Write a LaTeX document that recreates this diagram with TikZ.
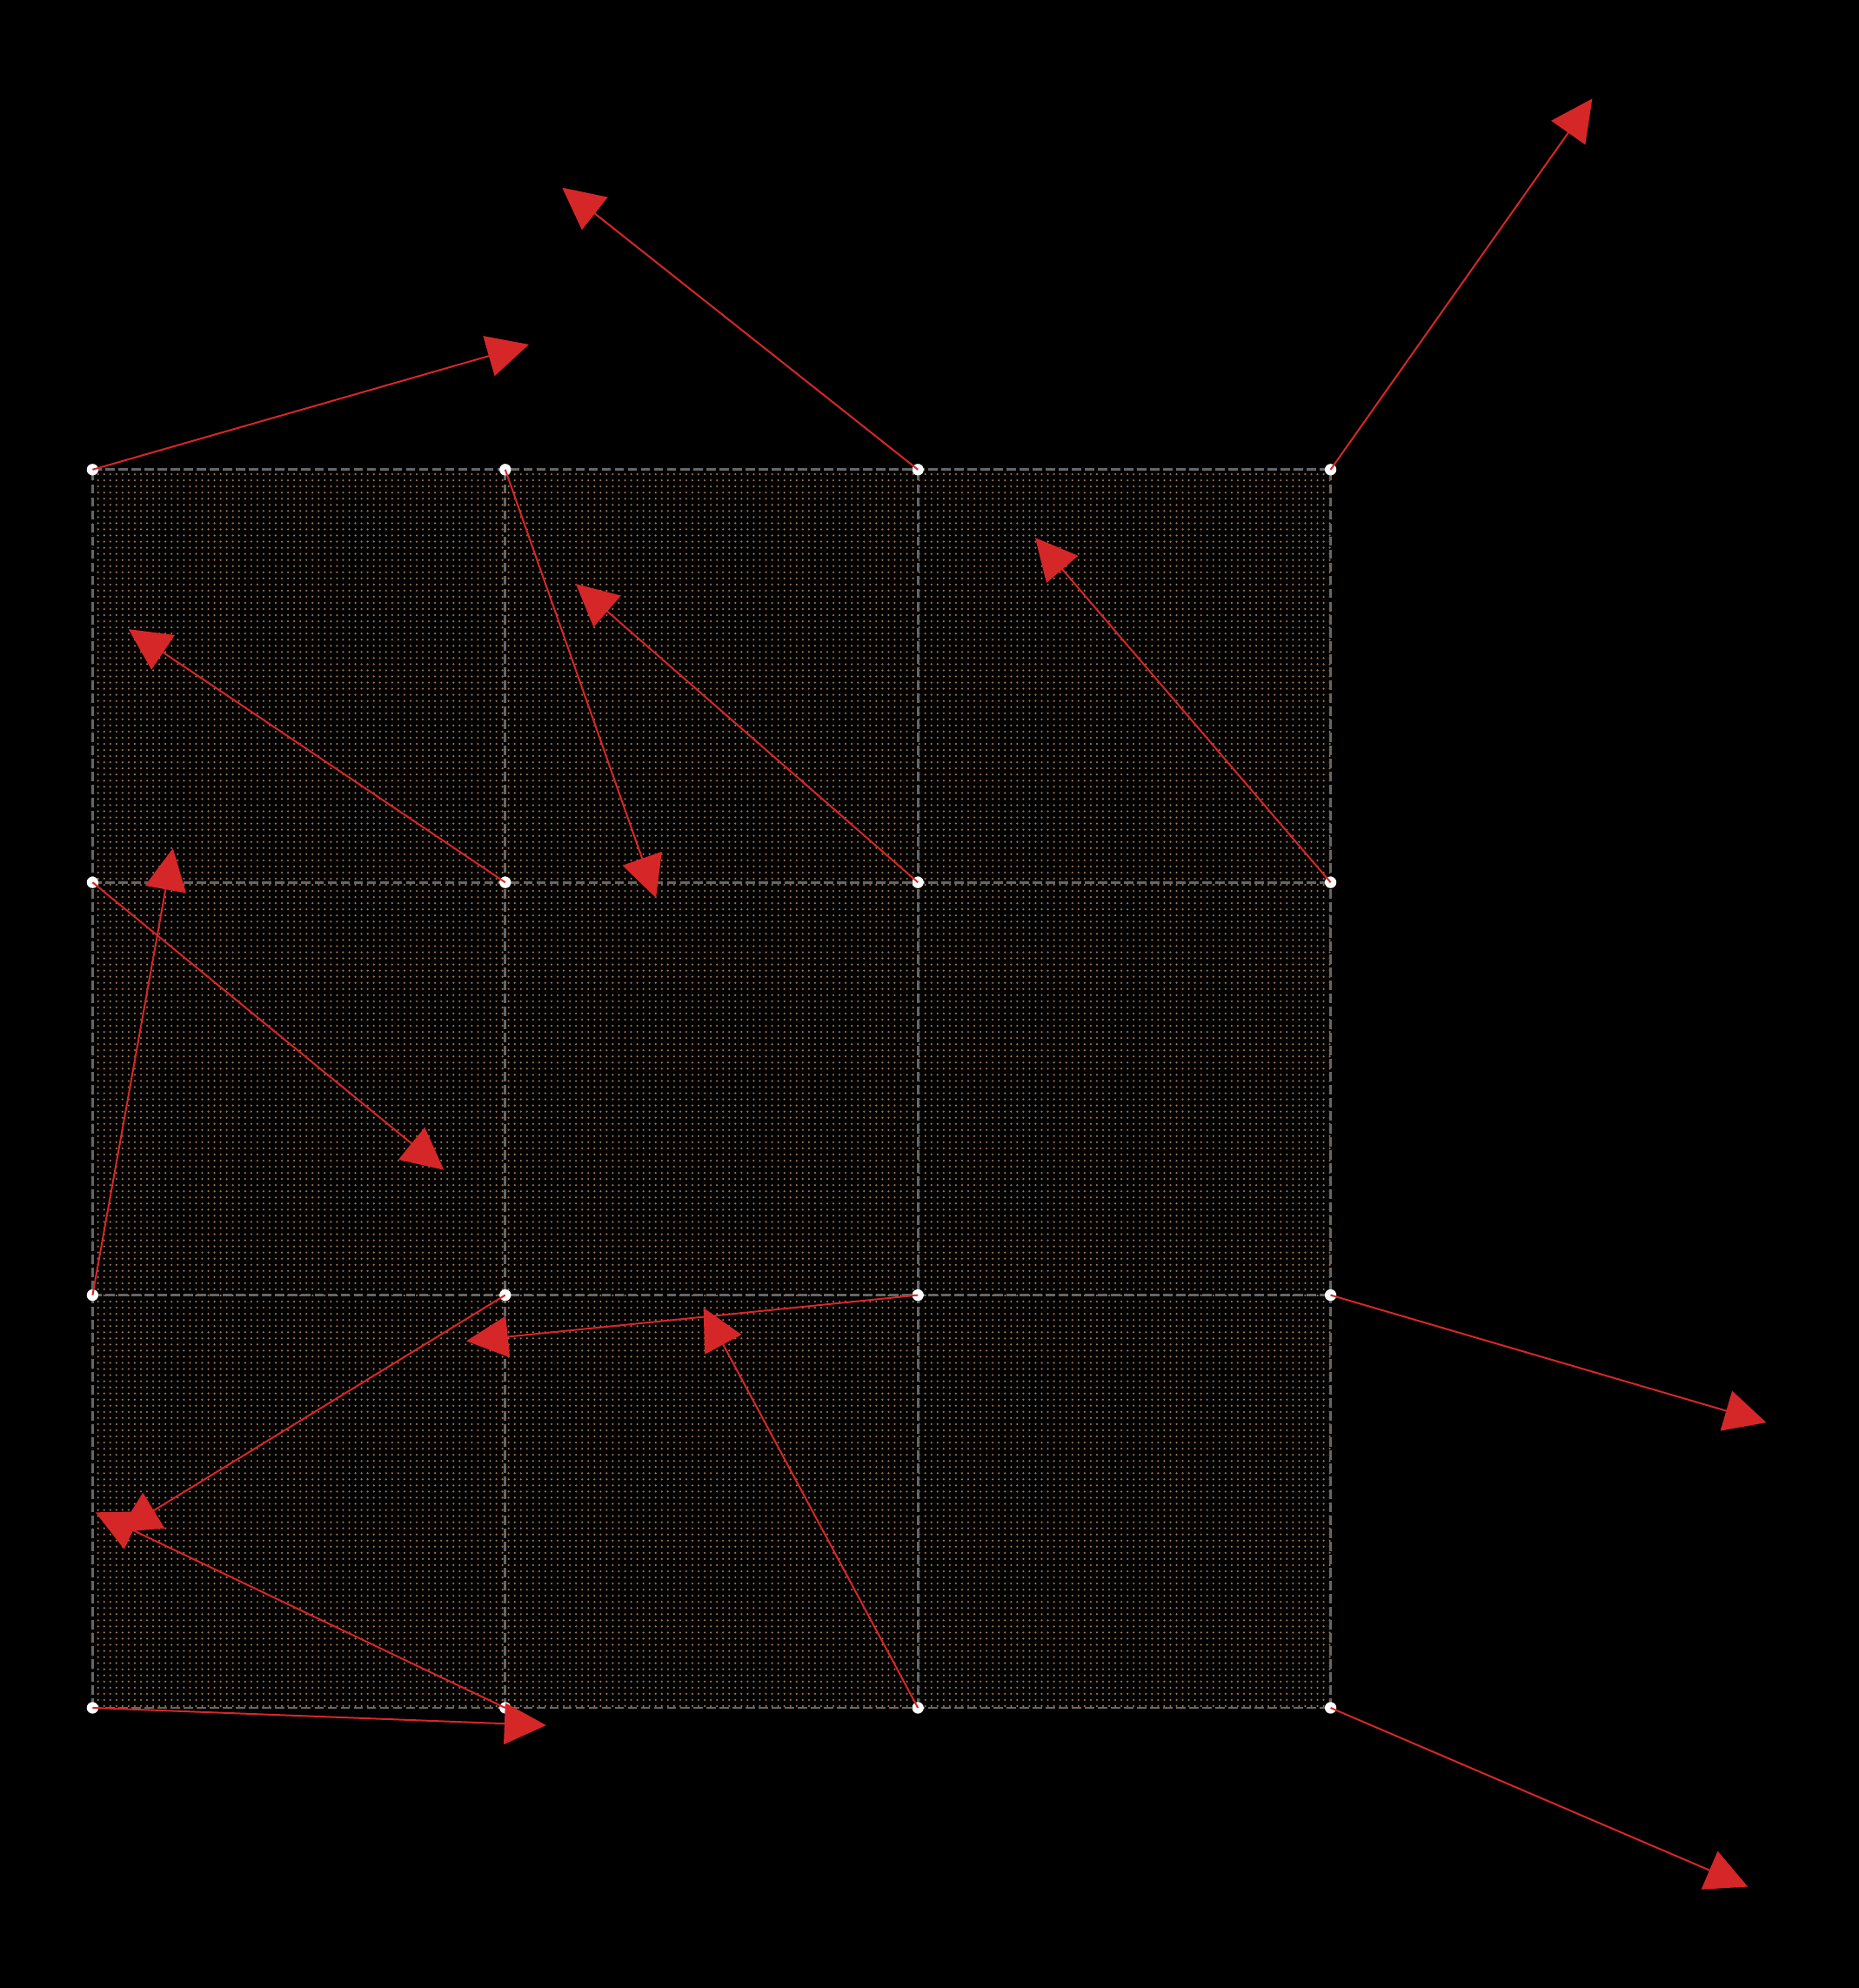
\documentclass[tikz,border=0pt]{standalone}
\usetikzlibrary{arrows.meta}
\usetikzlibrary{patterns.meta}
\definecolor{vecred}{rgb}{0.839,0.153,0.157}
\definecolor{gridgray}{rgb}{0.40,0.40,0.40}
\definecolor{sampleorange}{rgb}{0.62,0.45,0.28}

\begin{document}
\begin{tikzpicture}[x=4cm,y=4cm,
    gline/.style={gridgray,line width=0.65pt,dash pattern=on 2.6pt off 1pt},
    lattice/.style={circle,fill=white,inner sep=0pt,minimum size=3.2pt},
    gradvec/.style={-{Triangle[length=11.5pt,width=11.4pt]},vecred,line width=0.48pt}]

% background
\fill [black] (-0.2243,-0.6788) rectangle (4.2804,4.1379);

% sample points
\fill [pattern={Dots[distance=1.69pt,radius=0.3pt]},pattern color=sampleorange]
    (0,0) rectangle (3,3);

% cell borders
\foreach \k in {0,...,3} {
  \draw [gline] (\k,0) -- (\k,3);
  \draw [gline] (0,\k) -- (3,\k);
}

% lattice points
\foreach \i in {0,...,3}
  \foreach \j in {0,...,3}
    \node [lattice] (p\i\j) at (\i,\j) {};

% gradient vectors
\foreach \i/\j/\a in {0/3/16.0, 1/3/-70.6, 2/3/141.6, 3/3/54.8,
                      0/2/-39.3, 1/2/146.1, 2/2/138.9, 3/2/130.6,
                      0/1/79.8, 1/1/211.5, 2/1/185.8, 3/1/-16.3,
                      0/0/-2.2, 1/0/154.5, 2/0/118.2, 3/0/-23.2} {
  \coordinate (t\i\j) at ([shift={(\a:1.1)}]\i,\j);
  \draw [gradvec] (p\i\j.center) -- (t\i\j);
}

\end{tikzpicture}
\end{document}
